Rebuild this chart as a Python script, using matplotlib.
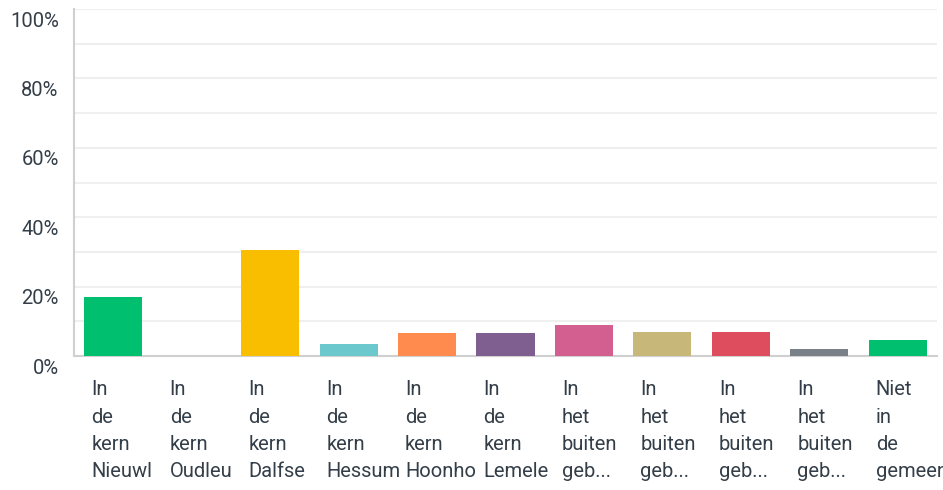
import numpy as np
from matplotlib import pyplot as plt
from matplotlib.ticker import FuncFormatter
from matplotlib.transforms import ScaledTranslation

categories = ["In\nde\nkern\nNieuwl", "In\nde\nkern\nOudleu", "In\nde\nkern\nDalfse",
              "In\nde\nkern\nHessum", "In\nde\nkern\nHoonho", "In\nde\nkern\nLemele",
              "In\nhet\nbuiten\ngeb...", "In\nhet\nbuiten\ngeb...", "In\nhet\nbuiten\ngeb...",
              "In\nhet\nbuiten\ngeb...", "Niet\nin\nde\ngemeen"]
values = [17.0, 0.0, 30.5, 3.5, 6.6, 6.6, 8.9, 6.9, 6.9, 2.0, 4.6]
colors = ["#00bf6f", "#00bf6f", "#f9be00", "#6bc8cd", "#ff8b4f", "#7f5f90",
          "#d25f90", "#c7b879", "#dd4d5e", "#7a8087", "#00bf6f"]

plt.rcParams['font.family'] = ['Roboto', 'DejaVu Sans']
text_color = "#333e48"

fig = plt.figure(figsize=(9.43, 4.9), dpi=100)
ax = fig.add_axes([74/943, 134/490, 863/943, 347/490])

x = np.arange(len(values))
ax.bar(x, values, width=0.74, color=colors, zorder=3)

ax.set_xlim(-0.5, len(values) - 0.5)
ax.set_ylim(0, 100)
ax.set_yticks(np.arange(0, 101, 20))
ax.set_yticks(np.arange(0, 101, 10), minor=True)
ax.yaxis.set_major_formatter(FuncFormatter(lambda v, p: f"{v:.0f}%"))
ax.grid(axis='y', which='both', color='#efefef', linewidth=1.5, zorder=0)
ax.tick_params(axis='y', which='both', length=0, pad=11, labelsize=14.5, labelcolor=text_color)
ax.set_xticks([])

# tick labels sit a little below their gridline in the original
shift = ScaledTranslation(0, -10/100, fig.dpi_scale_trans)
for lbl in ax.get_yticklabels():
    lbl.set_transform(lbl.get_transform() + shift)

for s in ['top', 'right']:
    ax.spines[s].set_visible(False)
for s in ['left', 'bottom']:
    ax.spines[s].set_color('#d0d0d0')
    ax.spines[s].set_linewidth(1.5)

trans = ax.get_xaxis_transform()
for xi, lab in zip(x, categories):
    ax.text(xi - 0.28, -0.07, lab, transform=trans, ha='left', va='top',
            fontsize=14.5, color=text_color, linespacing=1.56, clip_on=False)

fig.savefig("out.png", dpi=100)
